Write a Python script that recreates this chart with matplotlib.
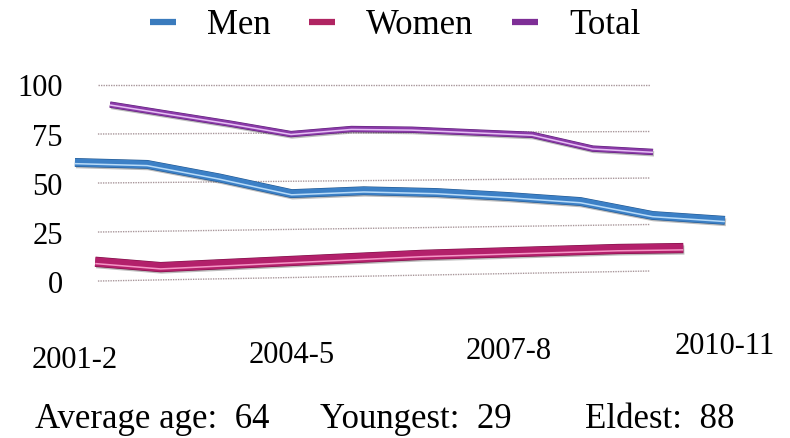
import numpy as np
import matplotlib
matplotlib.use('Agg')
import matplotlib.pyplot as plt
from matplotlib.transforms import Transform, Affine2D
from matplotlib.lines import Line2D
import matplotlib.patheffects as pe

# ---------------- data ----------------
years = ['2001-2', '2002-3', '2003-4', '2004-5', '2005-6',
         '2006-7', '2007-8', '2008-9', '2009-10', '2010-11']
tick_idx = [0, 3, 6, 9]
tick_labels = ['2001-2', '2004-5', '2007-8', '2010-11']
men = [72, 71, 65, 58, 59, 58, 56, 53.5, 47, 44.5]
women = [19, 16, 17, 18, 19, 20, 20.5, 21, 21.5, 21.5]
total = [90, 85, 80, 74.5, 77, 76.5, 75, 73.5, 66, 64]
y_ticks = [0, 25, 50, 75, 100]
legend_labels = ['Men', 'Women', 'Total']
stats = ['Average age:  64', 'Youngest:  29', 'Eldest:  88']

# ---------------- perspective geometry (3-D look) ----------------
W, H = 790, 438
X0, DX = 110.0, 60.33          # back-wall x of first category and step
GX0, GX1 = 100.0, 650.0        # back-wall reference span
Y0L, Y0R, Y100 = 281.0, 271.0, 85.0
VX, VY = 288.0, 25.0           # vanishing point


class Plane(Transform):
    input_dims = 2
    output_dims = 2
    is_separable = False
    has_inverse = False

    def __init__(self, scale):
        super().__init__()
        self._scale = scale

    def transform_non_affine(self, values):
        pts = np.asarray(values, dtype=float).reshape(-1, 2)
        u, v = pts[:, 0], pts[:, 1]
        bx = X0 + DX * u
        y0 = Y0L + (Y0R - Y0L) * (bx - GX0) / (GX1 - GX0)
        s = (y0 - Y100) / 100.0
        by = y0 - s * v
        px = VX + self._scale * (bx - VX)
        py = VY + self._scale * (by - VY)
        return np.column_stack([px, py])


FONT = 'Liberation Serif'
fig = plt.figure(figsize=(7.9, 4.38), dpi=100)
fig.patch.set_facecolor('white')
ax = fig.add_axes([0, 0, 1, 1])
ax.set_xlim(0, W)
ax.set_ylim(H, 0)
ax.axis('off')

T_back = Plane(1.0) + ax.transData
T_women = Plane(1.083) + ax.transData
T_men = Plane(1.197) + ax.transData

# gridlines on back wall
for g in y_ticks:
    ax.plot([-0.2, 8.95], [g, g], transform=T_back, color='#a8969a',
            lw=1.0, ls=(0, (1, 0.8)), zorder=1)

# y tick labels
for g in y_ticks:
    ax.text(-0.78, g, str(g), transform=T_back + Affine2D().translate(0, -4),
            ha='right', va='center', fontsize=22, family=FONT, color='black')

# x tick labels (front edge)
for i, lab in zip(tick_idx, tick_labels):
    ax.text(i, -12.3, lab, transform=T_men, ha='center', va='center',
            fontsize=22, family=FONT, color='black')

idx = np.arange(len(years))

series = [
    (total, T_back, '#8a3aa8', '#5e1f78', '#e6c0f4', 3.8, 0.4, 'Total'),
    (women, T_women, '#b3206b', '#7a1045', '#f596c6', 6.6, 1.8, 'Women'),
    (men, T_men, '#3c80c6', '#22578f', '#b8dbf8', 5.6, 1.2, 'Men'),
]
z = 3
for vals, T, c, dark, light, lw, hoff, name in series:
    ax.plot(idx, vals, transform=T, color=c, lw=lw, zorder=z,
            solid_joinstyle='round', solid_capstyle='butt',
            path_effects=[pe.SimpleLineShadow(offset=(0.8, -1.4),
                                              shadow_color='#444444', alpha=0.35),
                          pe.Stroke(linewidth=lw + 0.8, foreground=dark),
                          pe.Normal()])
    ax.plot(idx, vals, transform=T + Affine2D().translate(0, -hoff),
            color=light, lw=1.1, zorder=z + 0.5,
            solid_joinstyle='round', solid_capstyle='butt')
    z += 1

# legend
leg_colors = ['#3a7bbd', '#b02562', '#7e2e96']
handles = [Line2D([], [], color=c, lw=4.5, solid_capstyle='butt') for c in leg_colors]
fig.legend(handles, legend_labels, loc='upper center', bbox_to_anchor=(0.5, 1.05),
           ncol=3, frameon=False, prop={'family': FONT, 'size': 25},
           handlelength=0.75, handletextpad=0.9, columnspacing=1.1)

# bottom stats
for x, s in zip([35, 320, 585], stats):
    ax.text(x, 428, s, ha='left', va='baseline', fontsize=25, family=FONT,
            color='black')

fig.savefig('out.png', dpi=100)
